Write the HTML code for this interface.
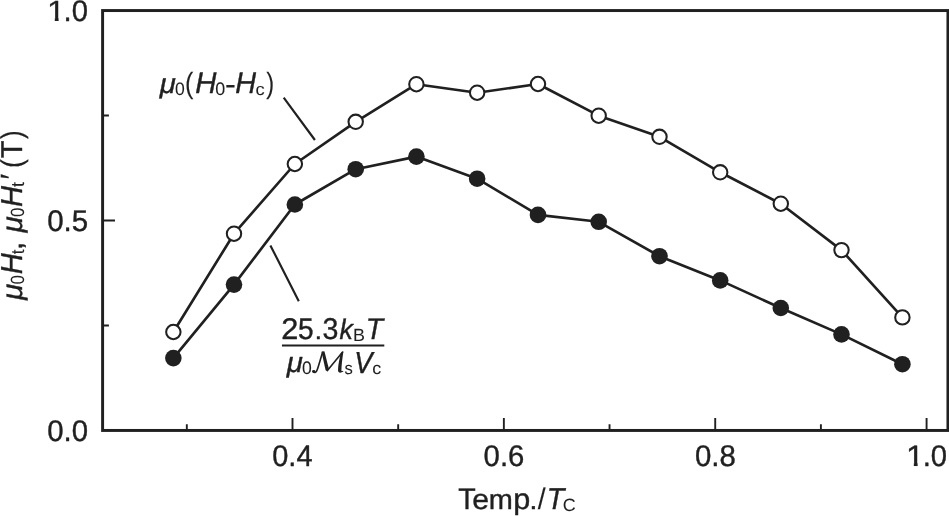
<!DOCTYPE html>
<html><head><meta charset="utf-8"><title>chart</title>
<style>html,body{margin:0;padding:0;background:#fff;overflow:hidden}svg{display:block;filter:grayscale(1)}text{font-family:"Liberation Sans",sans-serif;text-rendering:geometricPrecision;fill:#231f20;stroke:#231f20;stroke-linejoin:round}</style>
</head><body>
<svg width="949" height="516" viewBox="0 0 949 516">
<rect width="949" height="516" fill="#fff"/>
<rect x="102.6" y="10.55" width="845.35" height="419.90" fill="none" stroke="#231f20" stroke-width="2.95"/>
<path d="M292.50,430.45 V418.05 M503.86,430.45 V418.05 M715.22,430.45 V418.05 M926.58,430.45 V418.05 M186.82,430.45 V424.15 M398.18,430.45 V424.15 M609.54,430.45 V424.15 M820.90,430.45 V424.15 M102.6,220.50 H115.00 M102.6,325.48 H108.90 M102.6,115.53 H108.90" fill="none" stroke="#231f20" stroke-width="1.9"/>
<polyline points="173.35,332.00 234.00,233.70 294.85,164.00 355.70,121.80 416.40,84.20 477.15,92.70 538.00,84.00 598.70,115.70 659.50,136.80 720.20,172.30 780.80,203.70 841.50,250.10 902.40,317.40" fill="none" stroke="#231f20" stroke-width="2.65" stroke-linejoin="round"/>
<polyline points="173.35,358.10 234.00,284.60 294.85,204.50 355.70,169.20 416.40,156.60 477.15,178.70 538.00,214.90 598.70,221.80 659.50,256.20 720.20,280.40 780.80,308.00 841.50,334.40 902.40,364.20" fill="none" stroke="#231f20" stroke-width="2.65" stroke-linejoin="round"/>
<circle cx="173.35" cy="332.00" r="7.2" fill="#fff" stroke="#231f20" stroke-width="2.05"/>
<circle cx="234.00" cy="233.70" r="7.2" fill="#fff" stroke="#231f20" stroke-width="2.05"/>
<circle cx="294.85" cy="164.00" r="7.2" fill="#fff" stroke="#231f20" stroke-width="2.05"/>
<circle cx="355.70" cy="121.80" r="7.2" fill="#fff" stroke="#231f20" stroke-width="2.05"/>
<circle cx="416.40" cy="84.20" r="7.2" fill="#fff" stroke="#231f20" stroke-width="2.05"/>
<circle cx="477.15" cy="92.70" r="7.2" fill="#fff" stroke="#231f20" stroke-width="2.05"/>
<circle cx="538.00" cy="84.00" r="7.2" fill="#fff" stroke="#231f20" stroke-width="2.05"/>
<circle cx="598.70" cy="115.70" r="7.2" fill="#fff" stroke="#231f20" stroke-width="2.05"/>
<circle cx="659.50" cy="136.80" r="7.2" fill="#fff" stroke="#231f20" stroke-width="2.05"/>
<circle cx="720.20" cy="172.30" r="7.2" fill="#fff" stroke="#231f20" stroke-width="2.05"/>
<circle cx="780.80" cy="203.70" r="7.2" fill="#fff" stroke="#231f20" stroke-width="2.05"/>
<circle cx="841.50" cy="250.10" r="7.2" fill="#fff" stroke="#231f20" stroke-width="2.05"/>
<circle cx="902.40" cy="317.40" r="7.2" fill="#fff" stroke="#231f20" stroke-width="2.05"/>
<circle cx="173.35" cy="358.10" r="8.3" fill="#231f20"/>
<circle cx="234.00" cy="284.60" r="8.3" fill="#231f20"/>
<circle cx="294.85" cy="204.50" r="8.3" fill="#231f20"/>
<circle cx="355.70" cy="169.20" r="8.3" fill="#231f20"/>
<circle cx="416.40" cy="156.60" r="8.3" fill="#231f20"/>
<circle cx="477.15" cy="178.70" r="8.3" fill="#231f20"/>
<circle cx="538.00" cy="214.90" r="8.3" fill="#231f20"/>
<circle cx="598.70" cy="221.80" r="8.3" fill="#231f20"/>
<circle cx="659.50" cy="256.20" r="8.3" fill="#231f20"/>
<circle cx="720.20" cy="280.40" r="8.3" fill="#231f20"/>
<circle cx="780.80" cy="308.00" r="8.3" fill="#231f20"/>
<circle cx="841.50" cy="334.40" r="8.3" fill="#231f20"/>
<circle cx="902.40" cy="364.20" r="8.3" fill="#231f20"/>
<path d="M283.7,97.6 L314.9,140 M270.4,245.4 L298.8,301.3" fill="none" stroke="#231f20" stroke-width="2.15"/>
<defs><clipPath id="nofoot"><path d="M-1,-23 H10.6 V0.6 H7.15 V-3.0 H-1 Z"/></clipPath></defs>
<text transform="translate(47.01,20.51) scale(1.0904,0.9734)" font-size="30" stroke-width="0.4" clip-path="url(#nofoot)">1</text>
<text transform="translate(63.60,21.02) scale(0.9740,0.9962)" font-size="30" stroke-width="0.4">.0</text>
<text transform="translate(47.16,231.02) scale(0.9834,0.9981)" font-size="30" stroke-width="0.4">0.5</text>
<text transform="translate(47.15,441.04) scale(0.9789,0.9967)" font-size="30" stroke-width="0.4">0.0</text>
<text transform="translate(272.23,465.98) scale(0.9651,0.9962)" font-size="30" stroke-width="0.4">0.4</text>
<text transform="translate(483.60,465.98) scale(0.9762,0.9962)" font-size="30" stroke-width="0.4">0.6</text>
<text transform="translate(694.96,465.98) scale(0.9791,0.9962)" font-size="30" stroke-width="0.4">0.8</text>
<text transform="translate(906.07,465.65) scale(1.0876,0.9826)" font-size="30" stroke-width="0.4" clip-path="url(#nofoot)">1</text>
<text transform="translate(922.66,465.98) scale(0.9735,0.9962)" font-size="30" stroke-width="0.4">.0</text>
<text transform="translate(458.13,508.99) scale(0.9533,0.9971)" font-size="30" stroke-width="0.4">T</text>
<text transform="translate(472.32,509.24) scale(1.0080,0.9516)" font-size="30" stroke-width="0.4">e</text>
<text transform="translate(488.80,508.99) scale(0.9638,0.9360)" font-size="30" stroke-width="0.4">m</text>
<text transform="translate(513.18,509.46) scale(1.0192,0.9743)" font-size="30" stroke-width="0.4">p</text>
<text transform="translate(529.34,509.22) scale(0.9977,0.8946)" font-size="30" stroke-width="0.4">.</text>
<text transform="translate(537.65,509.30) scale(0.9454,0.9854)" font-size="30" stroke-width="0.1">/</text>
<text transform="translate(546.69,509.22) scale(0.9585,1.0063)" font-size="30" font-style="italic" stroke-width="0.4">T</text>
<text transform="translate(562.79,511.08) scale(0.9983,0.9934)" font-size="18" stroke-width="0.05">C</text>
<text transform="translate(159.81,93.23) scale(0.9788,0.9386)" font-size="30" font-style="italic" stroke-width="0.4">μ</text>
<text transform="translate(175.07,94.79) scale(0.9786,1.0052)" font-size="18" stroke-width="0.05">0</text>
<text transform="translate(184.89,93.22) scale(0.8360,0.9793)" font-size="30" stroke-width="0.1">(</text>
<text transform="translate(195.15,92.72) scale(0.9773,0.9898)" font-size="30" font-style="italic" stroke-width="0.4">H</text>
<text transform="translate(215.15,94.81) scale(0.9948,1.0060)" font-size="18" stroke-width="0.05">0</text>
<text transform="translate(225.08,93.52) scale(1.0827,0.9813)" font-size="30" stroke-width="0.2">-</text>
<text transform="translate(235.32,92.72) scale(0.9590,0.9898)" font-size="30" font-style="italic" stroke-width="0.4">H</text>
<text transform="translate(255.47,94.59) scale(1.0218,0.9380)" font-size="18" stroke-width="0.05">c</text>
<text transform="translate(266.25,93.24) scale(0.7895,0.9803)" font-size="30" stroke-width="0.1">)</text>
<text transform="translate(281.14,339.20) scale(1.0244,0.9982)" font-size="30" stroke-width="0.4">2</text>
<text transform="translate(297.97,339.33) scale(0.9351,0.9956)" font-size="30" stroke-width="0.4">5</text>
<text transform="translate(314.57,339.20) scale(0.9207,0.8198)" font-size="30" stroke-width="0.4">.</text>
<text transform="translate(322.42,339.33) scale(0.9519,1.0042)" font-size="30" stroke-width="0.4">3</text>
<text transform="translate(339.53,339.20) scale(0.8927,0.9490)" font-size="30" font-style="italic" stroke-width="0.4">k</text>
<text transform="translate(352.97,340.77) scale(0.9958,0.9852)" font-size="18" stroke-width="0.05">B</text>
<text transform="translate(365.75,339.20) scale(0.9453,0.9995)" font-size="30" font-style="italic" stroke-width="0.4">T</text>
<path d="M281.95,345.4 H384.3" stroke="#231f20" stroke-width="2.0" fill="none"/>
<text transform="translate(286.82,372.35) scale(0.9794,0.9483)" font-size="30" font-style="italic" stroke-width="0.4">μ</text>
<text transform="translate(302.09,373.62) scale(0.9786,1.0060)" font-size="18" stroke-width="0.05">0</text>
<text transform="translate(344.40,373.63) scale(0.9225,0.9487)" font-size="18" stroke-width="0.05">s</text>
<text transform="translate(354.19,372.51) scale(0.9111,1.0136)" font-size="30" font-style="italic" stroke-width="0.4">V</text>
<text transform="translate(372.21,373.63) scale(0.9973,0.9461)" font-size="18" stroke-width="0.05">c</text>
<g fill="#231f20" stroke="none" role="img" aria-label="script M">
<ellipse cx="313.7" cy="371.5" rx="1.65" ry="1.45"/>
<path d="M321.5,351.7 L324.4,351.3 L329.0,369.2 L327.4,371.3 L325.6,370.2 Z"/>
<path d="M343.4,351.4 L341.0,352.8 C339.5,358 338.1,365 338.0,370.3 C338.0,373.0 340.6,373.5 343.4,371.6 L343.0,370.7 C341.9,371.4 341.4,371.2 341.4,370.2 C341.5,365.5 342.3,358.5 343.4,351.4 Z"/>
</g>
<path d="M313.5,371.6 C314.5,373.1 316.3,372.5 317.2,369.8 C318.6,366 320.6,358.5 322.6,352.2 M327.4,370.6 L342.6,352.0" fill="none" stroke="#231f20" stroke-width="1.6" stroke-linecap="round"/>
<g transform="translate(0,300) rotate(-90)">
<text transform="translate(-0.03,22.16) scale(0.9836,0.9705)" font-size="30" font-style="italic" stroke-width="0.4">μ</text>
<text transform="translate(15.41,24.14) scale(0.9449,1.0632)" font-size="18" stroke-width="0.05">0</text>
<text transform="translate(25.65,21.83) scale(0.9725,1.0097)" font-size="30" font-style="italic" stroke-width="0.4">H</text>
<text transform="translate(45.71,23.61) scale(0.9681,1.0240)" font-size="18" stroke-width="0.05">t</text>
<text transform="translate(50.12,22.27) scale(0.9748,0.9779)" font-size="30" stroke-width="0.4">,</text>
<text transform="translate(67.41,22.16) scale(0.9836,0.9705)" font-size="30" font-style="italic" stroke-width="0.4">μ</text>
<text transform="translate(82.91,24.14) scale(0.9390,1.0632)" font-size="18" stroke-width="0.05">0</text>
<text transform="translate(93.12,21.83) scale(0.9696,1.0097)" font-size="30" font-style="italic" stroke-width="0.4">H</text>
<text transform="translate(113.11,23.61) scale(0.9985,1.0240)" font-size="18" stroke-width="0.05">t</text>
<text transform="translate(120.58,22.01) scale(1.0161,1.0233)" font-size="30" stroke-width="0.2">′</text>
<text transform="translate(132.08,22.26) scale(0.8989,1.0054)" font-size="30" stroke-width="0.1">(</text>
<text transform="translate(141.80,21.83) scale(0.9656,1.0029)" font-size="30" stroke-width="0.4">T</text>
<text transform="translate(161.11,22.26) scale(0.8599,1.0054)" font-size="30" stroke-width="0.1">)</text>
</g>
</svg>
</body></html>
